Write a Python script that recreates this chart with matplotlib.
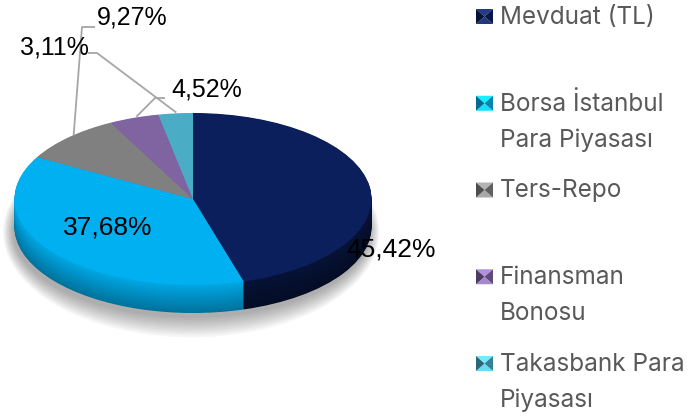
import numpy as np
import matplotlib
matplotlib.use('Agg')
import matplotlib.pyplot as plt
from matplotlib.colors import to_rgb
from matplotlib.patches import Polygon, Ellipse

# Veriler
categories = ['Mevduat (TL)', 'Borsa İstanbul\nPara Piyasası', 'Ters-Repo',
              'Finansman\nBonosu', 'Takasbank Para\nPiyasası']
shares = [45.42, 37.68, 9.27, 4.52, 3.11]
value_labels = ['45,42%', '37,68%', '9,27%', '4,52%', '3,11%']
colors = ['#0a1f5c', '#00b0f0', '#808080', '#8064a2', '#4bacc6']

W, H = 700, 417
fig = plt.figure(figsize=(7, 4.17), dpi=100)
ax = fig.add_axes([0, 0, 440 / W, 1])

# geometria della torta (pixel)
cx, cy = 193, 199
rx, ry = 178.5, 86
depth = 28


def to_data(x, y):
    return (x - cx) / rx, (cy - y) / ry


def shade(c, f):
    r, g, b = to_rgb(c)
    return (r * f, g * f, b * f)


# ombra morbida sotto la torta
for k in range(10):
    ax.add_patch(Ellipse((-0.01, -(depth + 5) / ry), 2.0 + k * 0.012, 2.0 + k * 0.05,
                         color='#000000', alpha=0.035, lw=0, zorder=0))

# parete laterale (strati sovrapposti)
n = 40
for off in np.linspace(depth, 0.5, n):
    t = off / depth
    f = 0.95 - 0.3 * t
    cols = [shade(c, f * (0.62 if i == 0 else 1.0)) for i, c in enumerate(colors)]
    ax.pie(shares, colors=cols, startangle=90, counterclock=False,
           center=(0, -off / ry), radius=1, wedgeprops=dict(linewidth=0))

# faccia superiore
wedges, _ = ax.pie(shares, colors=colors, startangle=90, counterclock=False,
                   radius=1, wedgeprops=dict(linewidth=0))

# etichette interne
label_pos = {'45,42%': (391, 250), '37,68%': (108, 227)}
for lab, (x, y) in label_pos.items():
    ax.text(*to_data(x, y), lab, ha='center', va='center', fontsize=19,
            family='Liberation Sans', color='black', zorder=10)

# etichette esterne con linee guida
outer = {'9,27%': ((132, 17), (95, 27), (82, 27)),
         '4,52%': ((207, 89), (165, 98), (155, 98)),
         '3,11%': ((54, 48), (88, 53), (97, 53))}
for i, lab in enumerate(value_labels):
    if lab not in outer:
        continue
    w = wedges[i]
    mid = np.deg2rad((w.theta1 + w.theta2) / 2)
    end = (np.cos(mid) * 0.96, np.sin(mid) * 0.96 + 0.05)
    tpos, p1, p2 = outer[lab]
    pts = [to_data(*p1), to_data(*p2), end]
    ax.plot([p[0] for p in pts], [p[1] for p in pts], color='#a6a6a6', lw=1.3,
            zorder=9, solid_capstyle='butt')
    ax.text(*to_data(*tpos), lab, ha='center', va='center', fontsize=18,
            family='Liberation Sans', color='black', zorder=10)

ax.set_aspect('auto')
ax.set_xlim(-cx / rx, (440 - cx) / rx)
ax.set_ylim((cy - H) / ry, cy / ry)
ax.axis('off')

# legenda
base0, step, line_h = 24, 86.75, 36
for i, (lab, c) in enumerate(zip(categories, colors)):
    base = base0 + i * step
    x0, x1, y0, y1 = 476, 493, base - 15, base
    xm, ym = (x0 + x1) / 2, (y0 + y1) / 2
    tris = [([(x0, y0), (x1, y0), (xm, ym)], 1.25),
            ([(x0, y1), (x1, y1), (xm, ym)], 1.15),
            ([(x0, y0), (x0, y1), (xm, ym)], 0.6),
            ([(x1, y0), (x1, y1), (xm, ym)], 0.75)]
    for pts, f in tris:
        col = tuple(min(1, v * f + (0.08 if f > 1 else 0)) for v in to_rgb(c))
        fig.patches.append(Polygon([(px / W, 1 - py / H) for px, py in pts],
                                   closed=True, transform=fig.transFigure,
                                   facecolor=col, edgecolor='none'))
    for j, line in enumerate(lab.split('\n')):
        fig.text(500 / W, 1 - (base + j * line_h) / H, line, ha='left',
                 va='baseline', fontsize=17.5, family='Inter', color='#595959')

fig.savefig('out.png', dpi=100)
